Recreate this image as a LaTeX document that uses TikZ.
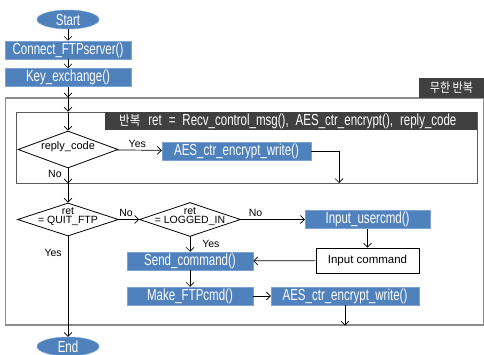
\documentclass[tikz,border=0pt]{standalone}
\usepackage{fontspec}
\setmainfont{Liberation Sans}
\newfontfamily\cond{Liberation Sans}[FakeStretch=0.72]
\newfontfamily\kr{Noto Sans CJK KR}[FakeStretch=0.85]
\usetikzlibrary{shapes.geometric,arrows.meta}
\definecolor{boxblue}{HTML}{4F81BD}
\definecolor{boxedge}{HTML}{7EA3D3}
\definecolor{darkbar}{HTML}{404040}
\definecolor{outergray}{HTML}{8C8C8C}
\definecolor{innergray}{HTML}{5A5A5A}
\tikzset{
  bluebox/.style={rectangle, fill=boxblue, draw=boxedge, line width=0.5pt, inner sep=0pt,
    text=white, font=\cond\fontsize{16}{16}\selectfont, minimum height=18pt},
  oval/.style={ellipse, fill=boxblue, draw=boxedge, line width=0.5pt, inner sep=0pt,
    text=white, font=\cond\fontsize{16}{16}\selectfont, minimum width=62pt, minimum height=19pt},
  dia/.style={diamond, draw=black, line width=0.8pt, inner sep=0pt, fill=white,
    minimum width=100pt, minimum height=34pt, font=\fontsize{10.5}{10.5}\selectfont},
  plainbox/.style={rectangle, draw=black, line width=0.8pt, inner sep=0pt, fill=white,
    minimum width=103pt, minimum height=25pt, font=\fontsize{11.5}{11.5}\selectfont},
  lbl/.style={font=\fontsize{10.5}{10.5}\selectfont, inner sep=0pt},
  arr/.style={draw=black, line width=0.7pt, -{Straight Barb[length=4pt,width=8pt]}},
  darklabel/.style={rectangle, fill=darkbar, inner sep=0pt, text=white}
}
\newcommand{\diatext}[2]{\smash{\makebox[0pt]{\def\arraystretch{0.75}\begin{tabular}{@{}c@{}}#1\\#2\end{tabular}}}}
\begin{document}
\begin{tikzpicture}[x=1pt,y=-1pt]
\useasboundingbox (0,0) rectangle (484,355);
% frames
\node[rectangle, draw=outergray, line width=1.1pt, minimum width=478pt, minimum height=227pt, inner sep=0pt] (outer) at (244.25,211.5) {};
\node[darklabel, minimum width=65pt, minimum height=20pt] (outerlabel) at (451.5,88) {\kr\fontsize{13}{13}\selectfont 무한 반복};
\node[rectangle, draw=innergray, line width=0.8pt, minimum width=461pt, minimum height=71pt, inner sep=0pt] (inner) at (246.5,147.5) {};
\node[darklabel, minimum width=372pt, minimum height=18pt] (innerlabel) at (291,121) {};
\node[anchor=west, text=white, inner sep=0pt] (innertitle) at (119,121.5)
  {{\kr\fontsize{13.5}{13.5}\selectfont 반복}\hspace{8pt}{\cond\fontsize{16}{16}\selectfont ret\hspace{7pt}=\hspace{7pt}Recv\_control\_msg(),\hspace{7pt}AES\_ctr\_encrypt(),\hspace{7pt}reply\_code}};
% nodes
\node[oval] (start) at (68,19.5) {Start};
\node[bluebox, minimum width=126pt] (connect) at (68,50) {Connect\_FTPserver()};
\node[bluebox, minimum width=126pt] (key) at (68,77.5) {Key\_exchange()};
\node[dia, minimum height=37pt] (reply) at (68,149.5) {\smash{\makebox[0pt]{\fontsize{11}{11}\selectfont reply\_code}}};
\node[bluebox, minimum width=149pt] (aes1) at (236.5,151) {AES\_ctr\_encrypt\_write()};
\node[dia, minimum width=101pt, minimum height=33pt] (quit) at (68,219.5) {\diatext{ret}{= QUIT\_FTP}};
\node[dia, minimum width=101pt, minimum height=34pt] (logged) at (190,219.5) {\diatext{ret}{= LOGGED\_IN}};
\node[bluebox, minimum width=125pt] (usercmd) at (367.5,219.5) {Input\_usercmd()};
\node[plainbox] (inputcmd) at (367.5,260.5) {Input command};
\node[bluebox, minimum width=126pt] (send) at (190,261) {Send\_command()};
\node[bluebox, minimum width=126pt] (make) at (190,296) {Make\_FTPcmd()};
\node[bluebox, minimum width=148pt] (aes2) at (345,296) {AES\_ctr\_encrypt\_write()};
\node[oval] (end) at (68,346.5) {End};
\coordinate (aes1end) at (339,183);
% connectors
\draw[arr] (start) -- (connect);
\draw[arr] (connect) -- (key);
\draw[arr] (key) -- (key |- outer.north);
\draw[arr] (key |- outer.north) -- (key |- inner.north);
\draw[arr] (key |- inner.north) -- (reply);
\draw[arr] (reply) -- node[lbl, above=2pt, pos=0.45] {Yes} (aes1);
\draw[arr] (aes1) -| (aes1end);
\draw[arr] (reply) -- node[lbl, left=6pt, pos=0.4] {No} (reply |- inner.south);
\draw[arr] (reply |- inner.south) -- (quit);
\draw[arr] (quit) -- node[lbl, above=3pt, pos=0.35] {No} (logged);
\draw[arr] (logged) -- node[lbl, above=3pt, pos=0.23] {No} (usercmd);
\draw[arr] (logged) -- node[lbl, right=12pt, pos=0.45] {Yes} (send);
\draw[arr] (usercmd) -- (inputcmd);
\draw[arr] (inputcmd) -- (send);
\draw[arr] (send) -- (make);
\draw[arr] (make) -- (aes2);
\draw[arr] (aes2) -- (aes2 |- outer.south);
\draw[arr] (quit) -- node[lbl, left=6pt, pos=0.16] {Yes} (end);
\end{tikzpicture}
\end{document}
